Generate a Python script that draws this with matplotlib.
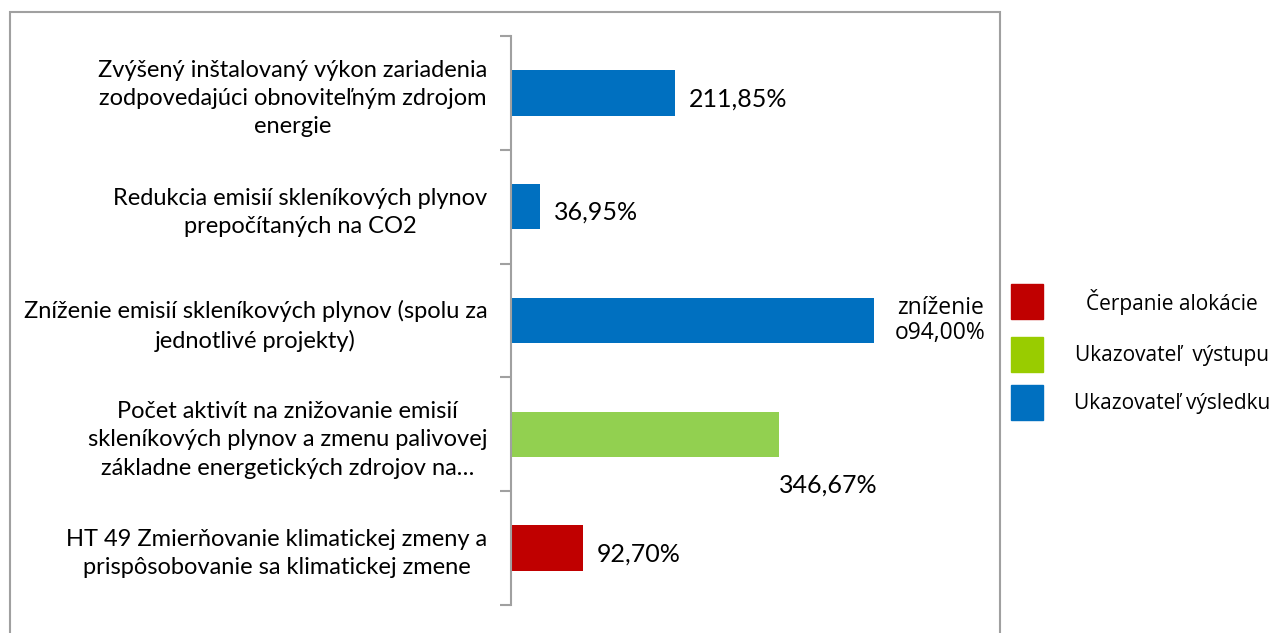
import numpy as np
import matplotlib.pyplot as plt
from matplotlib.patches import Rectangle

# categories from bottom to top
categories = [
    "HT 49 Zmierňovanie klimatickej zmeny a\nprispôsobovanie sa klimatickej zmene",
    "Počet aktivít na znižovanie emisií\nskleníkových plynov a zmenu palivovej\nzákladne energetických zdrojov na…",
    "Zníženie emisií skleníkových plynov (spolu za\njednotlivé projekty)",
    "Redukcia emisií skleníkových plynov\nprepočítaných na CO2",
    "Zvýšený inštalovaný výkon zariadenia\nzodpovedajúci obnoviteľným zdrojom\nenergie",
]
bar_values = [92.70, 346.67, 469.0, 36.95, 211.85]
value_labels = ["92,70%", "346,67%", "zníženie\no94,00%", "36,95%", "211,85%"]
bar_colors = ["#C00000", "#92D050", "#0070C0", "#0070C0", "#0070C0"]

legend_labels = ["Čerpanie alokácie", "Ukazovateľ  výstupu", "Ukazovateľ výsledku"]
legend_colors = ["#C00000", "#99CC00", "#0070C0"]

W, H = 1274, 633
fig = plt.figure(figsize=(W / 100, H / 100), dpi=100)
ax = fig.add_axes([511 / W, 1 - 605 / H, (1000 - 511) / W, (605 - 36) / H])

y = np.arange(len(categories))
ax.barh(y, bar_values, height=0.4, color=bar_colors)
ax.set_xlim(0, (1000 - 511) / 0.774)
ax.set_ylim(-0.5, len(categories) - 0.5)

label_font = "Lato"
for i, (v, lab) in enumerate(zip(bar_values, value_labels)):
    if i == 1:
        ax.text(v, i - 0.45, lab, ha="left", va="center", fontsize=18, family=label_font)
    elif i == 2:
        ax.text(v + 27, i, lab, ha="left", va="center", fontsize=16.5, family="Open Sans",
                multialignment="center", linespacing=1.05)
    else:
        ax.text(v + 18, i - 0.05, lab, ha="left", va="center", fontsize=18, family=label_font)

ax.set_yticks(y)
ax.set_yticklabels(categories, fontsize=17, family=label_font, multialignment="center",
                   linespacing=1.42)
ax.tick_params(axis="y", which="major", length=0, pad=17)
ax.set_yticks(np.arange(-0.5, len(categories)), minor=True)
ax.tick_params(axis="y", which="minor", length=8, color="#A0A0A0", width=1.5)
ax.set_xticks([])
for s in ["top", "right", "bottom"]:
    ax.spines[s].set_visible(False)
ax.spines["left"].set_color("#A0A0A0")
ax.spines["left"].set_linewidth(1.5)

# outer chart frame
fig.patches.append(Rectangle((10 / W, -0.05), 990 / W, 1.05 - 12 / H, transform=fig.transFigure,
                             fill=False, edgecolor="#A0A0A0", linewidth=1.5))

# legend
leg_y = [302, 355, 403]
for ly, lab, c in zip(leg_y, legend_labels, legend_colors):
    fig.patches.append(Rectangle((1011 / W, 1 - (ly + 17) / H), 32 / W, 35 / H,
                                 transform=fig.transFigure, color=c))
    fig.text(1172 / W, 1 - ly / H, lab, ha="center", va="center", fontsize=15,
             family="Open Sans")

fig.savefig("out.png", dpi=100)
